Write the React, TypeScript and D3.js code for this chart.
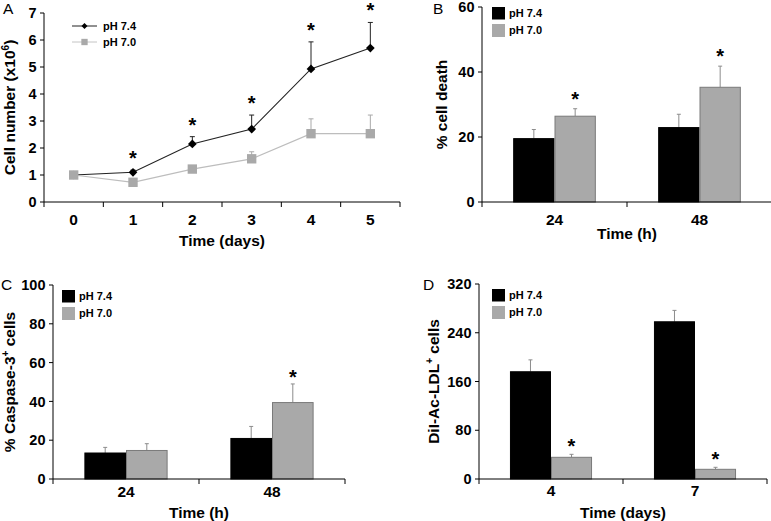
import React from 'react';
import * as d3 from 'd3';

// ---------- data ----------
const seriesNames = ['pH 7.4', 'pH 7.0'];

// Panel A: cell growth
const growthDays = ['0', '1', '2', '3', '4', '5'];
const growth74 = [1.0, 1.1, 2.15, 2.7, 4.93, 5.7];
const growth74Err = [0, 0.08, 0.27, 0.52, 1.0, 0.95];
const growth70 = [1.0, 0.73, 1.22, 1.6, 2.53, 2.53];
const growth70Err = [0, 0, 0.08, 0.26, 0.55, 0.69];
const growthSig = [false, true, true, true, true, true];
const growthTicks = [0, 1, 2, 3, 4, 5, 6, 7];

// Panel B: cell death
const deathHours = ['24', '48'];
const death74 = [19.5, 22.9];
const death74Err = [2.8, 4.1];
const death70 = [26.4, 35.3];
const death70Err = [2.3, 6.5];
const deathSig = [true, true];
const deathTicks = [0, 20, 40, 60];

// Panel C: caspase-3
const caspHours = ['24', '48'];
const casp74 = [13.4, 20.9];
const casp74Err = [2.9, 6.2];
const casp70 = [14.7, 39.4];
const casp70Err = [3.5, 9.6];
const caspSig = [false, true];
const caspTicks = [0, 20, 40, 60, 80, 100];

// Panel D: DiI-Ac-LDL uptake
const ldlDays = ['4', '7'];
const ldl74 = [176, 258];
const ldl74Err = [19.5, 18.7];
const ldl70 = [35.6, 15.9];
const ldl70Err = [4.9, 3.3];
const ldlSig = [true, true];
const ldlTicks = [0, 80, 160, 240, 320];

const FONT = '"Liberation Sans", Arial, Helvetica, sans-serif';
const GREY = '#a9a9a9';

function Star({ x, y }: { x: number; y: number }) {
  return (
    <text x={x} y={y + 11} textAnchor="middle" fontFamily={FONT} fontWeight="bold" fontSize={20} fill="#000">*</text>
  );
}

function YAxis({ x, scale, ticks }: { x: number; scale: any; ticks: number[] }) {
  const [y0, y1] = scale.range();
  return (
    <g>
      <line x1={x} x2={x} y1={y0} y2={y1} stroke="#000" strokeWidth={1} />
      {ticks.map((t) => (
        <g key={t}>
          <line x1={x - 4} x2={x} y1={scale(t)} y2={scale(t)} stroke="#000" />
          <text x={x - 7.5} y={scale(t)} dy="0.36em" textAnchor="end" fontFamily={FONT} fontWeight="bold" fontSize={14.5}>{t}</text>
        </g>
      ))}
    </g>
  );
}

function XAxis({ y, band, labelY }: { y: number; band: any; labelY: number }) {
  const [r0, r1] = band.range();
  const n = band.domain().length;
  const step = band.step();
  const bounds = d3.range(n + 1).map((i) => r0 + i * step);
  return (
    <g>
      <line x1={r0} x2={r1} y1={y} y2={y} stroke="#000" />
      {bounds.map((b, i) => (
        <line key={i} x1={b} x2={b} y1={y} y2={y + 5} stroke="#000" />
      ))}
      {band.domain().map((d: string) => (
        <text key={d} x={band(d) + band.bandwidth() / 2} y={labelY} textAnchor="middle" fontFamily={FONT} fontWeight="bold" fontSize={15.5}>{d}</text>
      ))}
    </g>
  );
}

function PanelA() {
  const x = d3.scaleBand<string>().domain(growthDays).range([44, 400]).padding(0);
  const y = d3.scaleLinear().domain([0, 7]).range([202, 13]);
  const cx = (d: string) => (x(d) as number) + x.bandwidth() / 2;
  const line = d3.line<number>().x((_, i) => cx(growthDays[i])).y((v) => y(v));
  const diamond = d3.symbol().type(d3.symbolSquare).size(38)();
  const square = d3.symbol().type(d3.symbolSquare).size(88)();
  const lgDiamond = d3.symbol().type(d3.symbolSquare).size(18)();
  const lgSquare = d3.symbol().type(d3.symbolSquare).size(40)();
  return (
    <g>
      <text x={3} y={14} fontFamily={FONT} fontSize={15.5}>A</text>
      <text transform={`translate(15,${(202 + 13) / 2}) rotate(-90)`} textAnchor="middle" fontFamily={FONT} fontWeight="bold" fontSize={15.5}>
        Cell number (x10<tspan fontSize={10} dy={-6}>6</tspan><tspan dy={6}>)</tspan>
      </text>
      <YAxis x={44} scale={y} ticks={growthTicks} />
      <XAxis y={202} band={x} labelY={225} />
      {/* pH 7.4 */}
      {growth74.map((v, i) => growth74Err[i] > 0 ? (
        <g key={'e74' + i}>
          <line x1={cx(growthDays[i])} x2={cx(growthDays[i])} y1={y(v)} y2={y(v + growth74Err[i])} stroke="#222" />
          <line x1={cx(growthDays[i]) - 2.5} x2={cx(growthDays[i]) + 2.5} y1={y(v + growth74Err[i])} y2={y(v + growth74Err[i])} stroke="#222" />
        </g>
      ) : null)}
      <path d={line(growth74) as string} fill="none" stroke="#222" strokeWidth={1.1} />
      {growth74.map((v, i) => (
        <path key={'m74' + i} d={diamond as string} transform={`translate(${cx(growthDays[i])},${y(v)}) rotate(45)`} fill="#000" />
      ))}
      {/* pH 7.0 */}
      {growth70.map((v, i) => growth70Err[i] > 0 ? (
        <g key={'e70' + i}>
          <line x1={cx(growthDays[i])} x2={cx(growthDays[i])} y1={y(v)} y2={y(v + growth70Err[i])} stroke={GREY} />
          <line x1={cx(growthDays[i]) - 2.5} x2={cx(growthDays[i]) + 2.5} y1={y(v + growth70Err[i])} y2={y(v + growth70Err[i])} stroke={GREY} />
        </g>
      ) : null)}
      <path d={line(growth70) as string} fill="none" stroke="#bdbdbd" strokeWidth={1.2} />
      {growth70.map((v, i) => (
        <path key={'m70' + i} d={square as string} transform={`translate(${cx(growthDays[i])},${y(v)})`} fill={GREY} />
      ))}
      {growthSig.map((s, i) => s ? <Star key={'s' + i} x={cx(growthDays[i])} y={y(growth74[i] + growth74Err[i]) - 16} /> : null)}
      {/* legend */}
      <line x1={72} x2={97} y1={26} y2={26} stroke="#222" />
      <path d={lgDiamond as string} transform="translate(84.5,26) rotate(45)" fill="#000" />
      <text x={103} y={30} fontFamily={FONT} fontWeight="bold" fontSize={11}>{seriesNames[0]}</text>
      <line x1={72} x2={97} y1={42} y2={42} stroke="#c4c4c4" />
      <path d={lgSquare as string} transform="translate(84.5,42)" fill={GREY} />
      <text x={103} y={46} fontFamily={FONT} fontWeight="bold" fontSize={11}>{seriesNames[1]}</text>
    </g>
  );
}

type BarProps = {
  letter: string; letterX: number; letterY: number;
  left: number; right: number; top: number; bottom: number;
  cats: string[]; v74: number[]; e74: number[]; v70: number[]; e70: number[]; sig: boolean[];
  ticks: number[];
  yLabel: React.ReactNode; yLabelX: number;
  xTitle: string; xLabelY: number; xTitleY: number;
  legX: number; legY: number; starGap: number;
};

function BarPanel(p: BarProps) {
  const x = d3.scaleBand<string>().domain(p.cats).range([p.left, p.right]).paddingInner(0.43).paddingOuter(0.215);
  const sub = d3.scaleBand<string>().domain(seriesNames).range([0, x.bandwidth()]).padding(0);
  const y = d3.scaleLinear().domain([0, p.ticks[p.ticks.length - 1]]).range([p.bottom, p.top]);
  const series = [
    { name: seriesNames[0], v: p.v74, e: p.e74, fill: '#000', stroke: '#000' },
    { name: seriesNames[1], v: p.v70, e: p.e70, fill: GREY, stroke: '#7a7a7a' },
  ];
  return (
    <g>
      <text x={p.letterX} y={p.letterY} fontFamily={FONT} fontSize={15.5}>{p.letter}</text>
      <text transform={`translate(${p.yLabelX},${(p.top + p.bottom) / 2}) rotate(-90)`} textAnchor="middle" fontFamily={FONT} fontWeight="bold" fontSize={15.5}>
        {p.yLabel}
      </text>
      {series.map((s) => p.cats.map((c, i) => {
        const bx = (x(c) as number) + (sub(s.name) as number);
        const w = sub.bandwidth();
        const cx = bx + w / 2;
        return (
          <g key={s.name + c}>
            <line x1={cx} x2={cx} y1={y(s.v[i])} y2={y(s.v[i] + s.e[i])} stroke="#8c8c8c" />
            <line x1={cx - 2} x2={cx + 2} y1={y(s.v[i] + s.e[i])} y2={y(s.v[i] + s.e[i])} stroke="#8c8c8c" />
            <rect x={bx + 0.5} y={y(s.v[i])} width={w - 1} height={p.bottom - y(s.v[i])} fill={s.fill} stroke={s.stroke} strokeWidth={1} />
          </g>
        );
      }))}
      {p.cats.map((c, i) => p.sig[i] ? (
        <Star key={'s' + c} x={(x(c) as number) + (sub(seriesNames[1]) as number) + sub.bandwidth() / 2} y={y(p.v70[i] + p.e70[i]) - p.starGap} />
      ) : null)}
      <YAxis x={p.left} scale={y} ticks={p.ticks} />
      <XAxis y={p.bottom} band={x} labelY={p.xLabelY} />
      <text x={(p.left + p.right) / 2} y={p.xTitleY} textAnchor="middle" fontFamily={FONT} fontWeight="bold" fontSize={15.5}>{p.xTitle}</text>
      <rect x={p.legX} y={p.legY} width={13} height={12.5} fill="#000" />
      <text x={p.legX + 17} y={p.legY + 9.5} fontFamily={FONT} fontWeight="bold" fontSize={11}>{seriesNames[0]}</text>
      <rect x={p.legX} y={p.legY + 17} width={13} height={13} fill={GREY} />
      <text x={p.legX + 17} y={p.legY + 27} fontFamily={FONT} fontWeight="bold" fontSize={11}>{seriesNames[1]}</text>
    </g>
  );
}

export default function App() {
  return (
    <svg width={771} height={521} style={{ position: 'absolute', left: 0, top: 0, background: '#fff' }}>
      <rect width={771} height={521} fill="#fff" />
      <PanelA />
      <text x={222} y={246} textAnchor="middle" fontFamily={FONT} fontWeight="bold" fontSize={15.5}>Time (days)</text>
      <BarPanel letter="B" letterX={433} letterY={14} left={482} right={772} top={7} bottom={202}
        cats={deathHours} v74={death74} e74={death74Err} v70={death70} e70={death70Err} sig={deathSig}
        ticks={deathTicks} yLabel="% cell death" yLabelX={447}
        xTitle="Time (h)" xLabelY={225} xTitleY={239} legX={492} legY={7} starGap={14} />
      <BarPanel letter="C" letterX={1} letterY={290} left={53} right={345} top={285} bottom={479}
        cats={caspHours} v74={casp74} e74={casp74Err} v70={casp70} e70={casp70Err} sig={caspSig}
        ticks={caspTicks}
        yLabel={<>% Caspase-3<tspan fontSize={10} dy={-6}>+</tspan><tspan dy={6}> cells</tspan></>} yLabelX={15}
        xTitle="Time (h)" xLabelY={497} xTitleY={518} legX={62} legY={290} starGap={11} />
      <BarPanel letter="D" letterX={423} letterY={290} left={479} right={767} top={284} bottom={479}
        cats={ldlDays} v74={ldl74} e74={ldl74Err} v70={ldl70} e70={ldl70Err} sig={ldlSig}
        ticks={ldlTicks}
        yLabel={<>DiI-Ac-LDL<tspan fontSize={10} dy={-6}>+</tspan><tspan dy={6}> cells</tspan></>} yLabelX={439}
        xTitle="Time (days)" xLabelY={496} xTitleY={518} legX={492} legY={289} starGap={12} />
    </svg>
  );
}
